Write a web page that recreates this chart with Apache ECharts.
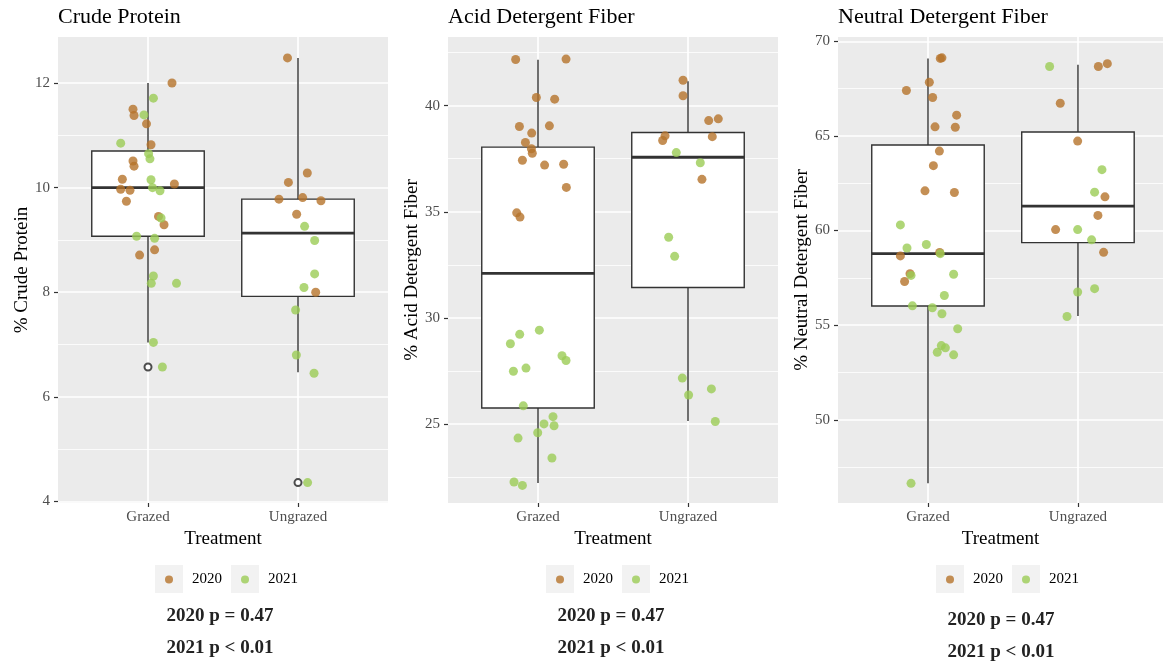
<!DOCTYPE html>
<html>
<head>
<meta charset="utf-8">
<script src="https://cdn.jsdelivr.net/npm/echarts@6/dist/echarts.min.js"></script>
<style>
  html, body { margin: 0; padding: 0; background: #fff; }
  #chart { width: 1163px; height: 664px; }
</style>
</head>
<body>
<div id="chart"></div>
<script>
// treatments sit at x = 1 and x = 2 on each panel
const treatments = ['Grazed', 'Ungrazed']
const treatmentTicks = [1, 2]
const years = ['2020', '2021']

// Crude Protein: [jitter x, value]
const cp2020 = [
  [1.16, 12.0], [0.90, 11.5], [0.907, 11.38], [0.99, 11.22], [1.02, 10.82], [0.90, 10.51],
  [0.907, 10.41], [0.829, 10.16], [0.818, 9.97], [0.88, 9.95], [1.176, 10.07], [0.856, 9.74],
  [1.07, 9.45], [1.107, 9.29], [1.044, 8.81], [0.944, 8.71],
  [1.93, 12.48], [2.062, 10.28], [1.936, 10.10], [1.873, 9.78], [2.031, 9.81], [2.153, 9.75],
  [1.991, 9.49], [2.118, 8.0]
]
const cp2021 = [
  [1.036, 11.71], [0.973, 11.39], [0.818, 10.85], [1.004, 10.65], [1.013, 10.55], [1.02, 10.15],
  [1.03, 10.0], [1.08, 9.94], [1.087, 9.42], [0.924, 9.07], [1.044, 9.03], [1.036, 8.31],
  [1.022, 8.17], [1.19, 8.17], [1.036, 7.04], [1.096, 6.57],
  [2.044, 9.26], [2.111, 8.99], [2.111, 8.35], [2.04, 8.09], [1.984, 7.66], [1.989, 6.80],
  [2.107, 6.45], [2.064, 4.36]
]
// [min, q1, median, q3, max] per treatment
const cpBoxes = [[7.04, 9.07, 10.0, 10.7, 12.0], [6.47, 7.92, 9.13, 9.78, 12.48]]
const cpOutliers = [[1, 6.57], [2, 4.36]]
const cpTicks = [4, 6, 8, 10, 12]

// Acid Detergent Fiber
const adf2020 = [
  [0.851, 42.18], [1.187, 42.20], [0.989, 40.39], [1.111, 40.31], [0.876, 39.02], [1.076, 39.05],
  [0.958, 38.71], [0.916, 38.27], [0.956, 37.97], [0.962, 37.76], [0.896, 37.43], [1.044, 37.20],
  [1.171, 37.24], [1.189, 36.15], [0.858, 34.95], [0.88, 34.75],
  [1.967, 41.2], [1.967, 40.47], [2.138, 39.30], [2.202, 39.38], [1.847, 38.58], [1.831, 38.36],
  [2.162, 38.54], [2.093, 36.53]
]
const adf2021 = [
  [1.009, 29.42], [0.878, 29.22], [0.816, 28.78], [1.16, 28.21], [1.187, 27.99], [0.92, 27.63],
  [0.836, 27.48], [0.902, 25.85], [1.10, 25.34], [1.04, 25.0], [1.107, 24.91], [0.998, 24.58],
  [0.867, 24.33], [1.093, 23.39], [0.84, 22.26], [0.896, 22.10],
  [1.922, 37.79], [2.082, 37.31], [1.871, 33.80], [1.911, 32.90], [1.962, 27.16], [2.004, 26.36],
  [2.156, 26.65], [2.182, 25.11]
]
const adfBoxes = [[22.21, 25.75, 32.1, 38.05, 42.17], [25.14, 31.43, 37.57, 38.74, 41.15]]
const adfOutliers = []
const adfTicks = [25, 30, 35, 40]

// Neutral Detergent Fiber
const ndf2020 = [
  [1.082, 69.10], [1.093, 69.13], [0.856, 67.40], [1.009, 67.84], [1.031, 67.03], [1.191, 66.10],
  [1.047, 65.48], [1.182, 65.46], [1.076, 64.20], [1.036, 63.43], [0.98, 62.10], [1.176, 62.01],
  [0.816, 58.66], [0.88, 57.72], [0.844, 57.31], [1.078, 58.84],
  [2.136, 68.67], [2.196, 68.82], [1.882, 66.73], [1.998, 64.73], [2.18, 61.78], [2.133, 60.80],
  [1.851, 60.05], [2.171, 58.85]
]
const ndf2021 = [
  [0.816, 60.30], [0.86, 59.08], [0.989, 59.26], [1.082, 58.78], [0.887, 57.63], [1.171, 57.69],
  [1.109, 56.57], [0.896, 56.02], [1.029, 55.92], [1.093, 55.60], [1.198, 54.81], [1.089, 53.92],
  [1.116, 53.80], [1.062, 53.57], [1.171, 53.43], [0.887, 46.64],
  [1.811, 68.67], [2.16, 63.22], [2.111, 62.03], [1.998, 60.05], [2.091, 59.51], [1.998, 56.75],
  [2.111, 56.93], [1.927, 55.46]
]
const ndfBoxes = [[46.64, 56.01, 58.78, 64.52, 69.1], [55.48, 59.36, 61.29, 65.21, 68.76]]
const ndfOutliers = []
const ndfTicks = [50, 55, 60, 65, 70]

const pTexts = ['2020 p = 0.47', '2021 p < 0.01']

const FONT = 'Liberation Serif'
const colors = { '2020': '#B5732B', '2021': '#9BCC55' }

// the third panel is cut off by the right edge of the picture
const panels = [
  { title: 'Crude Protein', yName: '% Crude Protein', left: 58, width: 330, xMax: 2.6, yMin: 3.97, yMax: 12.88, ticks: cpTicks,
    boxes: cpBoxes, p2020: cp2020, p2021: cp2021, outliers: cpOutliers, textX: 220, textY: [616, 648] },
  { title: 'Acid Detergent Fiber', yName: '% Acid Detergent Fiber', left: 448, width: 330, xMax: 2.6, yMin: 21.27, yMax: 43.24, ticks: adfTicks,
    boxes: adfBoxes, p2020: adf2020, p2021: adf2021, outliers: adfOutliers, textX: 611, textY: [616, 648] },
  { title: 'Neutral Detergent Fiber', yName: '% Neutral Detergent Fiber', left: 838, width: 325, xMax: 2.567, yMin: 45.6, yMax: 70.23, ticks: ndfTicks,
    boxes: ndfBoxes, p2020: ndf2020, p2021: ndf2021, outliers: ndfOutliers, textX: 1001, textY: [620, 652] }
]

function renderBox (params, api) {
  const x = api.value(0)
  const pLo = api.coord([x, api.value(1)])
  const pQ1 = api.coord([x, api.value(2)])
  const pMed = api.coord([x, api.value(3)])
  const pQ3 = api.coord([x, api.value(4)])
  const pHi = api.coord([x, api.value(5)])
  const w = api.size([0.75, 0])[0]
  const stroke = '#333333'
  return {
    type: 'group',
    children: [
      { type: 'line', shape: { x1: pLo[0], y1: pLo[1], x2: pQ1[0], y2: pQ1[1] }, style: { stroke: stroke, lineWidth: 1.4 } },
      { type: 'line', shape: { x1: pQ3[0], y1: pQ3[1], x2: pHi[0], y2: pHi[1] }, style: { stroke: stroke, lineWidth: 1.4 } },
      { type: 'rect', shape: { x: pQ1[0] - w / 2, y: pQ3[1], width: w, height: pQ1[1] - pQ3[1] }, style: { fill: '#fff', stroke: stroke, lineWidth: 1.4 } },
      { type: 'line', shape: { x1: pMed[0] - w / 2, y1: pMed[1], x2: pMed[0] + w / 2, y2: pMed[1] }, style: { stroke: stroke, lineWidth: 2.8 } }
    ]
  }
}

const grid = []
const xAxis = []
const yAxis = []
const series = []
const title = []
const legend = []
const graphic = []

panels.forEach((p, i) => {
  grid.push({ left: p.left, top: 37, width: p.width, height: 466, show: true, backgroundColor: '#EBEBEB', borderWidth: 0 })
  xAxis.push({
    gridIndex: i, type: 'value', min: 0.4, max: p.xMax, splitNumber: 2,
    name: 'Treatment', nameLocation: 'middle', nameGap: 27,
    nameTextStyle: { fontFamily: FONT, fontSize: 19, color: '#000' },
    axisLine: { show: false },
    axisTick: { show: true, length: 4, customValues: treatmentTicks, lineStyle: { color: '#333', width: 1.2 } },
    axisLabel: { fontFamily: FONT, fontSize: 15, color: '#4D4D4D', margin: 7, customValues: treatmentTicks,
      formatter: v => treatments[v - 1] || '' },
    splitLine: { show: true, lineStyle: { color: '#fff', width: 1.7 } }
  })
  yAxis.push({
    gridIndex: i, type: 'value', min: p.yMin, max: p.yMax, splitNumber: 5,
    name: p.yName, nameLocation: 'middle', nameGap: 26, nameRotate: 90,
    nameTextStyle: { fontFamily: FONT, fontSize: 19, color: '#000' },
    axisLine: { show: false },
    axisTick: { show: true, length: 4, customValues: p.ticks, lineStyle: { color: '#333', width: 1.2 } },
    axisLabel: { fontFamily: FONT, fontSize: 15, color: '#4D4D4D', margin: 8, customValues: p.ticks },
    splitLine: { show: true, lineStyle: { color: '#fff', width: 1.7 } },
    minorTick: { show: false, splitNumber: 2 },
    minorSplitLine: { show: true, lineStyle: { color: '#fff', width: 0.8 } }
  })
  series.push({
    type: 'custom', xAxisIndex: i, yAxisIndex: i, renderItem: renderBox, silent: true,
    data: p.boxes.map((b, k) => [k + 1].concat(b))
  })
  series.push({
    type: 'scatter', name: '2020', xAxisIndex: i, yAxisIndex: i, symbolSize: 9,
    itemStyle: { color: colors['2020'] }, data: p.p2020
  })
  series.push({
    type: 'scatter', name: '2021', xAxisIndex: i, yAxisIndex: i, symbolSize: 9,
    itemStyle: { color: colors['2021'] }, data: p.p2021
  })
  series.push({
    type: 'scatter', name: 'outlier', xAxisIndex: i, yAxisIndex: i, symbol: 'emptyCircle', symbolSize: 7,
    itemStyle: { color: '#222', borderWidth: 1 }, data: p.outliers
  })
  title.push({
    text: p.title, left: p.left, top: 6, padding: 0,
    textStyle: { fontFamily: FONT, fontSize: 22, fontWeight: 'normal', color: '#000' }
  })
  const keyX = p.textX - 51
  legend.push({
    data: years, left: keyX - 4, top: 572, padding: 0, itemGap: 19,
    icon: 'circle', itemWidth: 8, itemHeight: 8,
    textStyle: { fontFamily: FONT, fontSize: 15, color: '#000', padding: [0, 0, 0, 14] }
  })
  graphic.push({ type: 'rect', z: -10, shape: { x: keyX - 14, y: 565, width: 28, height: 28 }, style: { fill: '#F2F2F2' } })
  graphic.push({ type: 'rect', z: -10, shape: { x: keyX + 62, y: 565, width: 28, height: 28 }, style: { fill: '#F2F2F2' } })
  pTexts.forEach((t, k) => {
    graphic.push({
      type: 'text', x: p.textX, y: p.textY[k],
      style: { text: t, font: 'bold 19px "Liberation Serif"', fill: '#222', align: 'center', verticalAlign: 'middle' }
    })
  })
})

const myChart = echarts.init(document.getElementById('chart'))
myChart.setOption({
  animation: false,
  title: title,
  legend: legend,
  grid: grid,
  xAxis: xAxis,
  yAxis: yAxis,
  series: series,
  graphic: graphic
})
</script>
</body>
</html>
